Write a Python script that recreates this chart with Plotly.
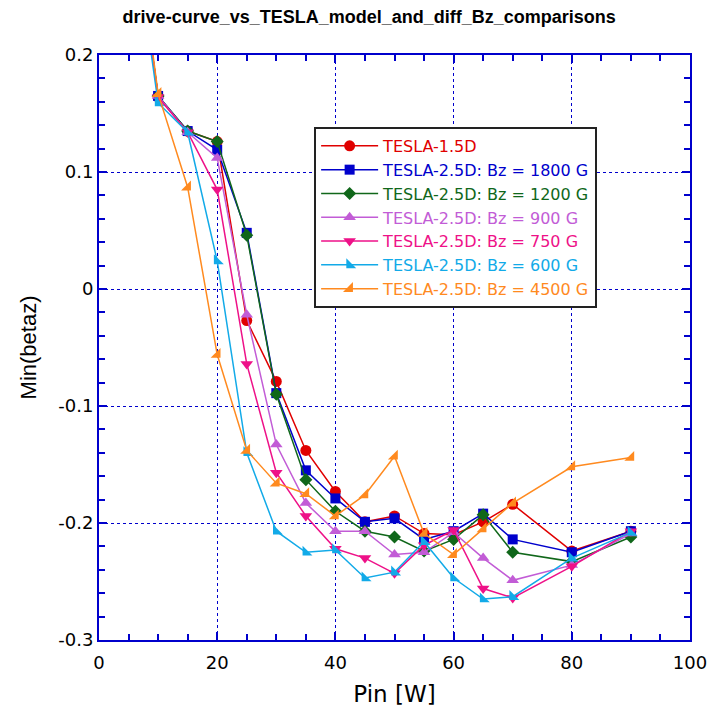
import plotly.graph_objects as go

# Input power [W]
pin = [5, 10, 15, 20, 25, 30, 35, 40, 45, 50, 55, 60, 65, 70, 80, 90]

# Min(betaz) for each model / axial field
tesla_15d = [0.35, 0.164, 0.135, 0.126, -0.027, -0.079, -0.138, -0.173, -0.199, -0.194, -0.209, -0.210, -0.199, -0.184, -0.224, -0.207]
bz_1800 = [0.35, 0.165, 0.135, 0.119, 0.048, -0.089, -0.155, -0.179, -0.199, -0.196, -0.214, -0.207, -0.192, -0.214, -0.225, -0.207]
bz_1200 = [0.35, 0.165, 0.135, 0.126, 0.046, -0.090, -0.163, -0.190, -0.207, -0.212, -0.224, -0.214, -0.193, -0.225, -0.233, -0.212]
bz_900 = [0.35, 0.165, 0.134, 0.112, -0.022, -0.133, -0.183, -0.207, -0.207, -0.227, -0.225, -0.208, -0.230, -0.249, -0.236, -0.209]
bz_750 = [0.35, 0.164, 0.134, 0.085, -0.064, -0.157, -0.194, -0.222, -0.230, -0.243, -0.219, -0.206, -0.256, -0.264, -0.237, -0.207]
bz_600 = [0.34, 0.159, 0.134, 0.024, -0.140, -0.207, -0.225, -0.223, -0.247, -0.242, -0.216, -0.247, -0.265, -0.263, -0.230, -0.208]
bz_4500 = [0.36, 0.167, 0.087, -0.056, -0.138, -0.166, -0.175, -0.194, -0.176, -0.143, -0.209, -0.227, -0.205, -0.183, -0.152, -0.144]

# Axis tick positions and labels
x_ticks = [0, 20, 40, 60, 80, 100]
x_labels = ["0", "20", "40", "60", "80", "100"]
y_ticks = [-0.3, -0.2, -0.1, 0.0, 0.1, 0.2]
y_labels = ["-0.3", "-0.2", "-0.1", "0", "0.1", "0.2"]

series = [
    ("TESLA-1.5D", tesla_15d, "#e00000", "circle", 11),
    ("TESLA-2.5D: Bz = 1800 G", bz_1800, "#0000cc", "square", 10),
    ("TESLA-2.5D: Bz = 1200 G", bz_1200, "#10671a", "diamond", 10),
    ("TESLA-2.5D: Bz = 900 G", bz_900, "#c25cd6", "triangle-up", 11),
    ("TESLA-2.5D: Bz = 750 G", bz_750, "#ee1188", "triangle-down", 11),
    ("TESLA-2.5D: Bz = 600 G", bz_600, "#12aae8", "triangle-sw", 11),
    ("TESLA-2.5D: Bz = 4500 G", bz_4500, "#ff8a1f", "triangle-se", 11),
]

fig = go.Figure()
for name, vals, color, symbol, size in series:
    fig.add_trace(go.Scatter(
        x=pin, y=vals,
        # legend label drawn in the series colour
        name=f"<span style='color:{color}'>{name}</span>",
        mode="lines+markers",
        line=dict(color=color, width=1.5),
        marker=dict(color=color, symbol=symbol, size=size),
    ))

axis_common = dict(
    showline=True, linecolor="#0000cc", linewidth=2, mirror="ticks",
    ticks="inside", tickcolor="#0000cc", ticklen=8, tickwidth=1.5,
    showgrid=True, gridcolor="#0000cc", gridwidth=1.2, griddash="3px,3px",
    zeroline=False, automargin=False,
    tickfont=dict(family="DejaVu Sans", size=18, color="black"),
)

fig.update_xaxes(
    range=[0, 100], tickmode="array", tickvals=x_ticks, ticktext=x_labels,
    ticklabelstandoff=5,
    minor=dict(dtick=5, tick0=0, ticks="inside", ticklen=6, tickcolor="#0000cc", tickwidth=1.5, showgrid=False),
    title=dict(text="Pin [W]", font=dict(family="DejaVu Sans", size=23, color="black"), standoff=14),
    **axis_common,
)
fig.update_yaxes(
    range=[-0.3, 0.2], tickmode="array", tickvals=y_ticks, ticktext=y_labels,
    minor=dict(dtick=0.02, tick0=0, ticks="inside", ticklen=6, tickcolor="#0000cc", tickwidth=1.5, showgrid=False),
    title=dict(text="Min(betaz)", font=dict(family="Liberation Sans, Arial", size=22, color="black"), standoff=16),
    **axis_common,
)

fig.update_layout(
    width=710, height=717,
    margin=dict(l=99, r=20, t=55, b=77),
    paper_bgcolor="white", plot_bgcolor="white",
    title=dict(
        text="<b>drive-curve_vs_TESLA_model_and_diff_Bz_comparisons</b>",
        x=0.52, xanchor="center", y=0.985, yanchor="top",
        font=dict(family="Liberation Sans, Arial", size=18, color="black"),
    ),
    showlegend=True,
    legend=dict(
        x=0.364, y=0.877, xanchor="left", yanchor="top",
        bgcolor="white", bordercolor="#222222", borderwidth=2,
        font=dict(family="DejaVu Sans", size=16),
        tracegroupgap=0, itemwidth=57,
    ),
)

fig.write_html("out.html")
